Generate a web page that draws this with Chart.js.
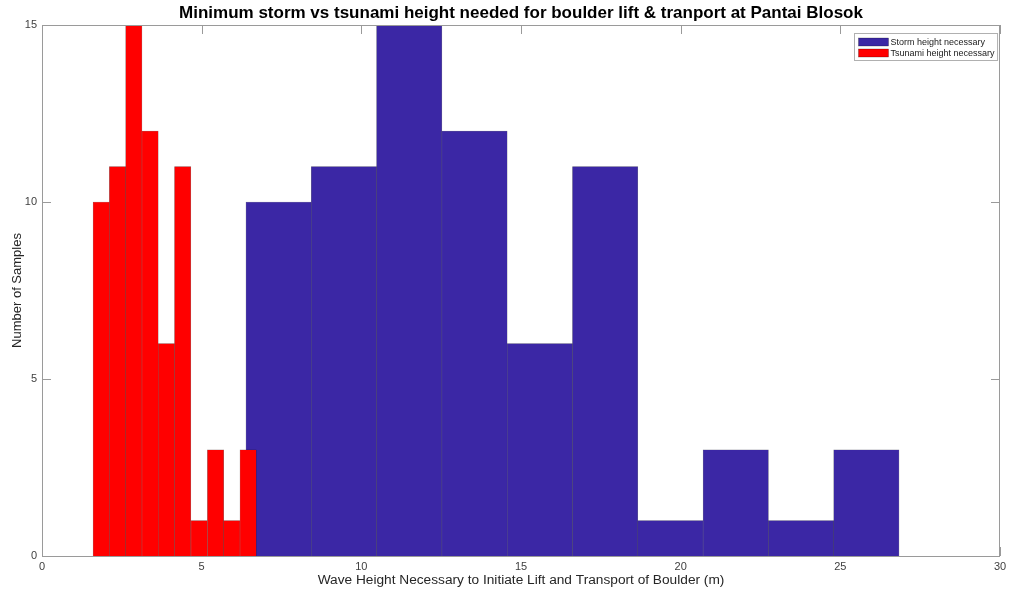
<!DOCTYPE html>
<html>
<head>
<meta charset="utf-8">
<script src="https://cdn.jsdelivr.net/npm/chart.js@4/dist/chart.umd.min.js"></script>
<style>
  html, body { margin: 0; padding: 0; background: #ffffff; }
  canvas { display: block; }
</style>
</head>
<body>
<canvas id="hist" width="1015" height="594"></canvas>
<script>
// Histogram bin edges (m) and sample counts per bin
const stormEdges = [6.39, 8.43, 10.48, 12.52, 14.57, 16.61, 18.66, 20.70, 22.75, 24.79, 26.84];
const stormCounts = [10, 11, 15, 12, 6, 11, 1, 3, 1, 3];
const tsunamiEdges = [1.60, 2.11, 2.62, 3.13, 3.64, 4.15, 4.66, 5.18, 5.69, 6.20, 6.71];
const tsunamiCounts = [10, 11, 15, 12, 6, 11, 1, 3, 1, 3];

// Axis ranges and ticks
const xTicks = [0, 5, 10, 15, 20, 25, 30];
const yTicks = [0, 5, 10, 15];

const seriesLabels = ['Storm height necessary', 'Tsunami height necessary'];
const titleText = 'Minimum storm vs tsunami height needed for boulder lift & tranport at Pantai Blosok';
const xLabel = 'Wave Height Necessary to Initiate Lift and Transport of Boulder (m)';
const yLabel = 'Number of Samples';

const FONT = '"Liberation Sans", Arial, Helvetica, sans-serif';
const AXIS_GRAY = '#9a9a9a';

// one bar per bin, centred between its two edges
function binPoints(edges, counts) {
  return counts.map((c, i) => ({ x: (edges[i] + edges[i + 1]) / 2, y: c }));
}

// inward tick marks on all four sides, drawn beneath the bars
const innerTicks = {
  id: 'innerTicks',
  beforeDatasetsDraw(chart) {
    const { ctx, chartArea: a, scales } = chart;
    const len = 9;
    ctx.save();
    ctx.strokeStyle = AXIS_GRAY;
    ctx.lineWidth = 1;
    ctx.beginPath();
    xTicks.forEach(v => {
      const px = Math.round(scales.x.getPixelForValue(v)) + 0.5;
      ctx.moveTo(px, a.bottom); ctx.lineTo(px, a.bottom - len);
      ctx.moveTo(px, a.top); ctx.lineTo(px, a.top + len);
    });
    yTicks.forEach(v => {
      const py = Math.round(scales.y.getPixelForValue(v)) + 0.5;
      ctx.moveTo(a.left, py); ctx.lineTo(a.left + len, py);
      ctx.moveTo(a.right, py); ctx.lineTo(a.right - len, py);
    });
    ctx.stroke();
    ctx.restore();
  },
  afterDatasetsDraw(chart) {
    const { ctx, chartArea: a } = chart;
    ctx.save();
    ctx.strokeStyle = AXIS_GRAY;
    ctx.lineWidth = 1;
    ctx.strokeRect(Math.round(a.left) + 0.5, Math.round(a.top) + 0.5,
                   Math.round(a.right - a.left) - 1, Math.round(a.bottom - a.top));
    ctx.restore();
  }
};

// boxed legend in the upper right corner of the plot
const boxLegend = {
  id: 'boxLegend',
  afterDraw(chart) {
    const { ctx, chartArea: a } = chart;
    const ds = chart.data.datasets;
    ctx.save();
    ctx.font = '9px ' + FONT;
    const textW = Math.max(...ds.map(d => ctx.measureText(d.label).width));
    const sw = 30, sh = 8, rowH = 11, padL = 4, gap = 2, padR = 3;
    const w = padL + sw + gap + textW + padR;
    const h = ds.length * rowH + 5;
    const x0 = Math.round(a.right - 3 - w) + 0.5;
    const y0 = Math.round(a.top + 8) + 0.5;
    ctx.fillStyle = '#ffffff';
    ctx.fillRect(x0, y0, w, h);
    ctx.strokeStyle = '#b0b0b0';
    ctx.lineWidth = 1;
    ctx.strokeRect(x0, y0, w, h);
    ds.forEach((d, i) => {
      const ry = y0 + 4.5 + i * rowH;
      ctx.fillStyle = d.backgroundColor;
      ctx.fillRect(x0 + padL, ry, sw, sh);
      ctx.strokeStyle = 'rgba(0,0,0,0.5)';
      ctx.lineWidth = 0.5;
      ctx.strokeRect(x0 + padL, ry, sw, sh);
      ctx.fillStyle = '#1a1a1a';
      ctx.textBaseline = 'middle';
      ctx.textAlign = 'left';
      ctx.fillText(d.label, x0 + padL + sw + gap, ry + sh / 2 + 0.5);
    });
    ctx.restore();
  }
};

new Chart(document.getElementById('hist'), {
  type: 'bar',
  data: {
    datasets: [
      {
        label: seriesLabels[0],
        data: binPoints(stormEdges, stormCounts),
        xAxisID: 'x',
        backgroundColor: '#3b27a5',
        borderColor: 'rgba(0,0,30,0.55)',
        borderWidth: 0.5,
        barPercentage: 1,
        categoryPercentage: 1,
        grouped: false,
        order: 2
      },
      {
        label: seriesLabels[1],
        data: binPoints(tsunamiEdges, tsunamiCounts),
        xAxisID: 'x2',
        backgroundColor: '#ff0000',
        borderColor: 'rgba(40,0,0,0.55)',
        borderWidth: 0.5,
        barPercentage: 1,
        categoryPercentage: 1,
        grouped: false,
        order: 1
      }
    ]
  },
  options: {
    responsive: false,
    animation: false,
    layout: { padding: { left: 0, right: 15, top: 0, bottom: 0 } },
    plugins: {
      legend: { display: false },
      tooltip: { enabled: false },
      title: {
        display: true,
        text: titleText,
        fullSize: false,
        color: '#000000',
        font: { family: FONT, size: 17, weight: 'bold', lineHeight: '20px' },
        padding: { top: 3, bottom: 2 }
      }
    },
    scales: {
      x: {
        type: 'linear',
        min: 0, max: 30,
        offset: false,
        afterBuildTicks: s => { s.ticks = xTicks.map(v => ({ value: v })); },
        afterFit: s => { s.height = 38; },
        grid: { display: false, drawTicks: false },
        border: { display: false },
        ticks: { color: '#404040', font: { family: FONT, size: 11 }, padding: 4, maxRotation: 0 },
        title: {
          display: true, text: xLabel, color: '#262626',
          font: { family: FONT, size: 13.7 }, padding: { top: 0, bottom: 6 }
        }
      },
      x2: {
        type: 'linear',
        min: 0, max: 30,
        offset: false,
        display: false
      },
      y: {
        type: 'linear',
        min: 0, max: 15,
        afterBuildTicks: s => { s.ticks = yTicks.map(v => ({ value: v })); },
        afterFit: s => { s.width = 42; },
        grid: { display: false, drawTicks: false },
        border: { display: false },
        ticks: { color: '#404040', font: { family: FONT, size: 11 }, padding: 5 },
        title: {
          display: true, text: yLabel, color: '#262626',
          font: { family: FONT, size: 13 }, padding: { top: 10, bottom: 0 }
        }
      }
    }
  },
  plugins: [innerTicks, boxLegend]
});
</script>
</body>
</html>
